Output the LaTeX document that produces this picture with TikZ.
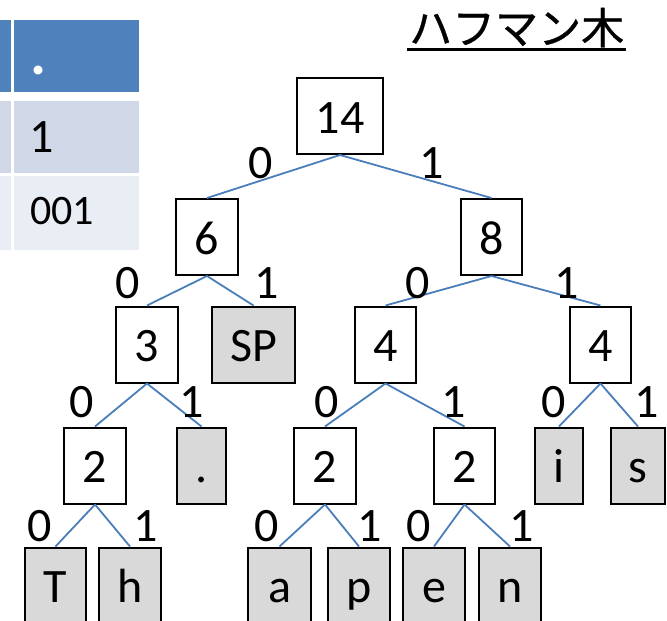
\documentclass[tikz,border=0pt]{standalone}
\usepackage{fontspec}
\setmainfont{Carlito}
\newfontfamily\jpfont[FakeBold=0.8]{Noto Sans CJK JP}

\definecolor{edgeblue}{HTML}{4A7EBB}
\definecolor{leafgray}{HTML}{D9D9D9}
\definecolor{headblue}{HTML}{4F81BD}
\definecolor{rowdark}{HTML}{D0D8E8}
\definecolor{rowlight}{HTML}{E9EDF4}

\newcommand{\treefont}{\fontsize{48pt}{58pt}\selectfont}
\newcommand{\codefont}{\fontsize{42pt}{50pt}\selectfont}

\tikzset{
  box/.style={draw=black, line width=2pt, inner sep=0pt,
              minimum height=76pt, text height=34pt, text depth=0pt,
              font=\treefont},
  inner/.style={box, fill=white},
  leaf/.style={box, fill=leafgray},
  bit/.style={anchor=base, inner sep=0pt, font=\treefont},
  link/.style={draw=edgeblue, line width=1.8pt},
  cell/.style={draw=none, inner sep=0pt, anchor=north west}
}

\begin{document}
\begin{tikzpicture}[x=1pt, y=-1pt]
\useasboundingbox (0,0) rectangle (667,621);
\clip (0,0) rectangle (667,621);

% --- code table (only its right part lies on the page) ---
\node[cell, fill=headblue, minimum width=71pt, minimum height=72pt] (h1) at (-60,20) {};
\node[cell, fill=headblue, minimum width=125pt, minimum height=72pt] (h2) at (14,20) {};
\node[cell, fill=rowdark, minimum width=71pt, minimum height=72pt] (r1a) at (-60,101) {};
\node[cell, fill=rowdark, minimum width=125pt, minimum height=72pt] (r1b) at (14,101) {};
\node[cell, fill=rowlight, minimum width=71pt, minimum height=74pt] (r2a) at (-60,176) {};
\node[cell, fill=rowlight, minimum width=125pt, minimum height=74pt] (r2b) at (14,176) {};
\node[anchor=base west, inner sep=0pt, text=white, font=\fontsize{60pt}{70pt}\selectfont\bfseries] (tdot) at (30,74) {.};
\node[anchor=base west, inner sep=0pt, font=\treefont] (tone) at (29,152) {1};
\node[anchor=base west, inner sep=0pt, font=\codefont] (tcode) at (30,224) {001};

% --- title ---
\node[anchor=base west, inner sep=0pt, font=\jpfont\fontsize{43pt}{50pt}\selectfont] (title) at (409,44) {ハフマン木};
\draw[line width=2.2pt] ([xshift=-2pt,yshift=-5.5pt]title.base west) -- ([xshift=2pt,yshift=-5.5pt]title.base east);

% --- tree nodes ---
\node[inner, minimum width=86pt] (n14) at (340,116) {14};
\node[inner, minimum width=62pt] (n6) at (207,237) {6};
\node[inner, minimum width=61pt] (n8) at (491.5,237) {8};
\node[inner, minimum width=62pt] (n3) at (147,344.5) {3};
\node[leaf, minimum width=83pt] (nSP) at (253.5,344.5) {SP};
\node[inner, minimum width=61pt] (n4a) at (385.5,344.5) {4};
\node[inner, minimum width=61pt] (n4b) at (600.5,344.5) {4};
\node[inner, minimum width=62pt] (n2a) at (95,465.5) {2};
\node[leaf, minimum width=49pt] (ndot) at (201.5,465.5) {.};
\node[inner, minimum width=62pt] (n2b) at (325,465.5) {2};
\node[inner, minimum width=61pt] (n2c) at (464.5,465.5) {2};
\node[leaf, minimum width=48pt] (ni) at (559,465.5) {i};
\node[leaf, minimum width=54pt] (ns) at (638,465.5) {s};
\node[leaf, minimum width=61pt] (nT) at (55.5,585.5) {T};
\node[leaf, minimum width=62pt] (nh) at (130,585.5) {h};
\node[leaf, minimum width=63pt] (na) at (279.5,585.5) {a};
\node[leaf, minimum width=62pt] (np) at (359,585.5) {p};
\node[leaf, minimum width=62pt] (ne) at (434,585.5) {e};
\node[leaf, minimum width=62pt] (nn) at (510,585.5) {n};

% --- branches ---
\draw[link] (n14.south) -- (n6.north);
\draw[link] (n14.south) -- (n8.north);
\draw[link] (n6.south) -- (n3.north);
\draw[link] (n6.south) -- (nSP.north);
\draw[link] (n8.south) -- (n4a.north);
\draw[link] (n8.south) -- (n4b.north);
\draw[link] (n3.south) -- (n2a.north);
\draw[link] (n3.south) -- (ndot.north);
\draw[link] (n4a.south) -- (n2b.north);
\draw[link] (n4a.south) -- (n2c.north);
\draw[link] (n4b.south) -- (ni.north);
\draw[link] (n4b.south) -- (ns.north);
\draw[link] (n2a.south) -- (nT.north);
\draw[link] (n2a.south) -- (nh.north);
\draw[link] (n2b.south) -- (na.north);
\draw[link] (n2b.south) -- (np.north);
\draw[link] (n2c.south) -- (ne.north);
\draw[link] (n2c.south) -- (nn.north);

% --- branch bits ---
\node[bit] (b1) at (261,178) {0};
\node[bit] (b2) at (432,178) {1};
\node[bit] (b3) at (128,298) {0};
\node[bit] (b4) at (267,298) {1};
\node[bit] (b5) at (418,298) {0};
\node[bit] (b6) at (567,298) {1};
\node[bit] (b7) at (82,417) {0};
\node[bit] (b8) at (192,417) {1};
\node[bit] (b9) at (327,417) {0};
\node[bit] (b10) at (454,417) {1};
\node[bit] (b11) at (554,417) {0};
\node[bit] (b12) at (647,417) {1};
\node[bit] (b13) at (40,541) {0};
\node[bit] (b14) at (146,541) {1};
\node[bit] (b15) at (267,541) {0};
\node[bit] (b16) at (370,541) {1};
\node[bit] (b17) at (419,541) {0};
\node[bit] (b18) at (522,541) {1};
\end{tikzpicture}
\end{document}
